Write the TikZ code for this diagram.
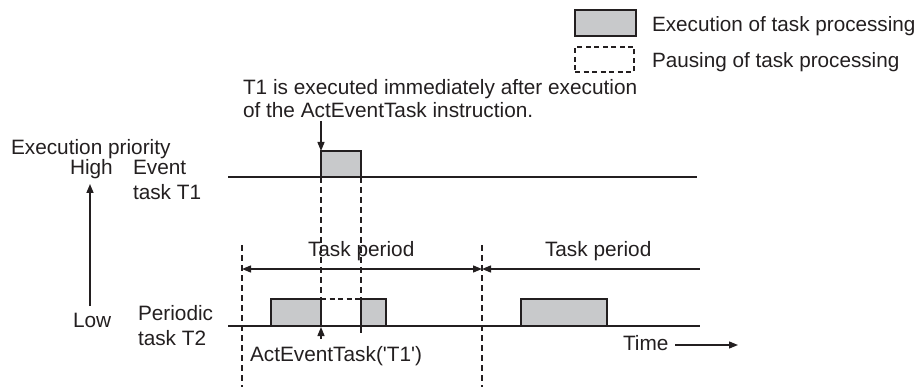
\documentclass[tikz,border=0pt]{standalone}
\usepackage{fontspec}
\setmainfont{Liberation Sans}
\usetikzlibrary{arrows.meta}
\definecolor{txt}{HTML}{231F20}
\definecolor{boxgray}{HTML}{C8C9CB}
\begin{document}
\begin{tikzpicture}[x=1pt,y=-1pt,
  every node/.style={inner sep=0pt, outer sep=0pt, text=txt, font=\fontsize{20.8}{25}\selectfont},
  lbl/.style={anchor=base west},
  leglbl/.style={anchor=base west, font=\fontsize{20.7}{25}\selectfont},
  tline/.style={line width=1.5pt, draw=txt},
  perline/.style={line width=1.3pt, draw=txt},
  execbox/.style={draw=txt, line width=1.4pt, fill=boxgray},
  pausebox/.style={draw=txt, line width=1.3pt, dash pattern=on 5pt off 3.5pt},
  guide/.style={draw=txt, line width=1.3pt, dash pattern=on 6pt off 4pt},
  tip/.style={-{Triangle[length=9pt,width=7pt]}},
  tips/.style={{Triangle[length=9pt,width=7pt]}-{Triangle[length=9pt,width=7pt]}},
  ltip/.style={{Triangle[length=9pt,width=7pt]}-},
]
\useasboundingbox (0,0) rectangle (923,387);

% legend
\node (legexec) [execbox, anchor=north west, minimum width=61pt, minimum height=26pt] at (575,10) {};
\node (legexect) [leglbl] at (652,32) {Execution of task processing};
\node (legpause) [pausebox, anchor=north west, minimum width=59pt, minimum height=25pt] at (575,47) {};
\node (legpauset) [leglbl] at (652,68) {Pausing of task processing};

% annotation
\node (ann1) [lbl] at (243,95) {T1 is executed immediately after execution};
\node (ann2) [lbl] at (243,118) {of the ActEventTask instruction.};

% left labels
\node (prio) [lbl] at (11,155) {Execution priority};
\node (high) [lbl] at (70,175) {High};
\node (ev1) [lbl] at (133,175) {Event};
\node (ev2) [lbl] at (133,200) {task T1};
\node (low) [lbl] at (73,327) {Low};
\node (per1) [lbl] at (138,320) {Periodic};
\node (per2) [lbl] at (138,345) {task T2};
\coordinate (prioLow) at (90,306);
\coordinate (prioHigh) at (90,184);
\draw[tline, tip] (prioLow) -- (prioHigh);

% timelines
\coordinate (t1s) at (228,177);
\coordinate (t1e) at (697,177);
\coordinate (t2s) at (228,326);
\coordinate (t2e) at (700,326);

% guides
\coordinate (ga1) at (242,245);
\coordinate (ga2) at (242,387);
\coordinate (gb1) at (482,245);
\coordinate (gb2) at (482,387);
\draw[guide] (ga1) -- (ga2);
\draw[guide] (gb1) -- (gb2);
\coordinate (gc1) at (321,177);
\coordinate (gc2) at (321,299);
\coordinate (gd1) at (361,177);
\coordinate (gd2) at (361,336);
\draw[guide] (gc1) -- (gc2);
\draw[guide] (gd1) -- (gd2);

\draw[tline] (t1s) -- (t1e);
\draw[tline] (t2s) -- (t2e);

% task period arrows
\coordinate (pa) at (242,269);
\coordinate (pb) at (482,269);
\coordinate (pc) at (700,269);
\draw[perline, tips] (pa) -- (pb);
\draw[perline, ltip] (pb) -- (pc);
\node (tp1) [lbl] at (308,257) {Task period};
\node (tp2) [lbl] at (545,257) {Task period};

% T1 execution
\node (t1box) [execbox, anchor=south west, minimum width=40pt, minimum height=26pt] at (321,177) {};
\coordinate (dn1) at (321,121);
\draw[perline, tip] (dn1) -- (t1box.north west);

% T2 execution
\node (t2boxa) [execbox, anchor=south west, minimum width=50pt, minimum height=27pt] at (271,326) {};
\node (t2boxb) [execbox, anchor=south west, minimum width=25pt, minimum height=27pt] at (361,326) {};
\node (t2boxc) [execbox, anchor=south west, minimum width=86pt, minimum height=27pt] at (521,326) {};
\draw[pausebox] (t2boxa.north east) -- (t2boxb.north west);

% ActEventTask marker
\coordinate (up1) at (321,339);
\draw[perline, -{Triangle[length=9pt,width=7pt]}] (up1) -- (321,327);
\node (act) [lbl] at (250,361) {ActEventTask(\textquotesingle T1\textquotesingle)};

% time arrow
\node (time) [lbl] at (623,350) {Time};
\coordinate (ts) at (675,345);
\coordinate (te) at (738,345);
\draw[perline, tip] (ts) -- (te);
\end{tikzpicture}
\end{document}
